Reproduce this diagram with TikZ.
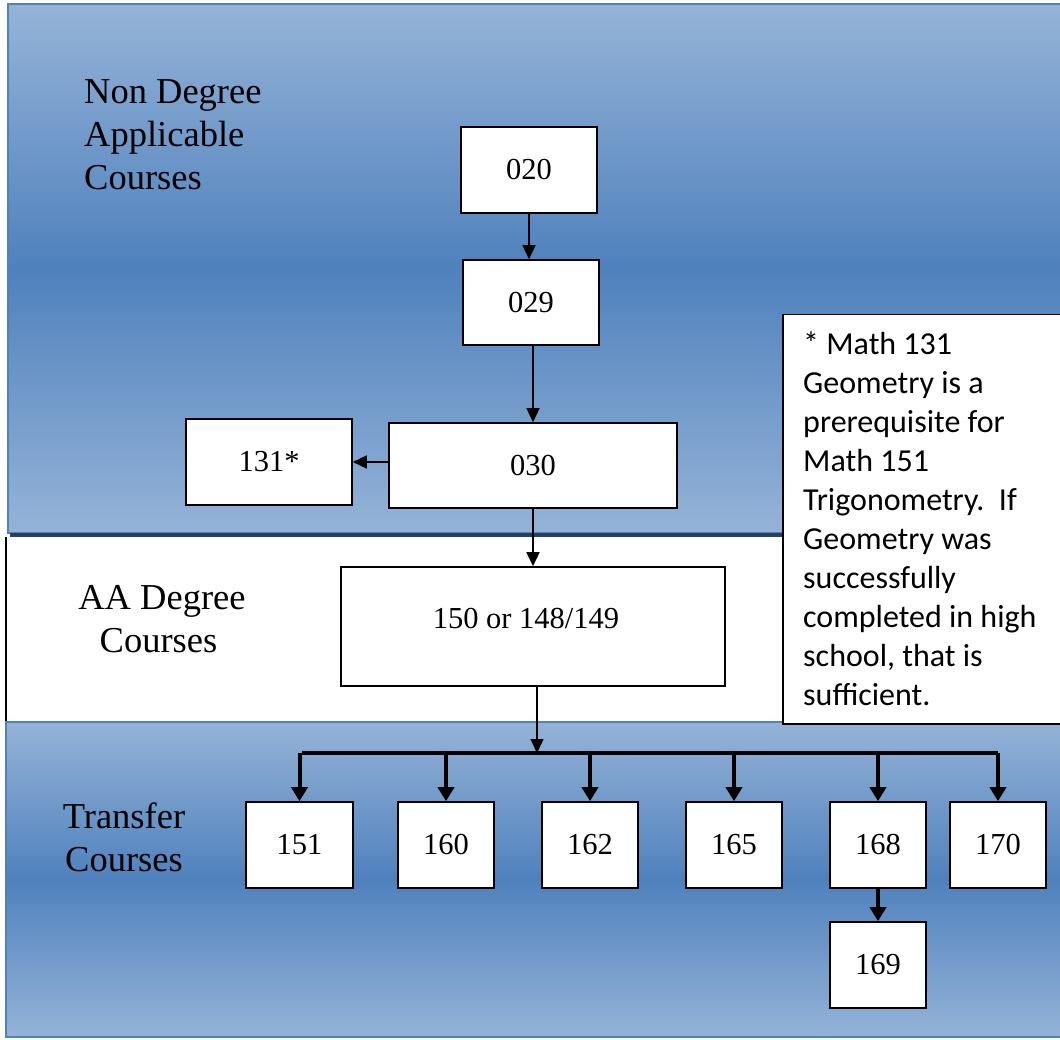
\documentclass[tikz,border=0pt]{standalone}
\usepackage{fontspec}
\setmainfont{Liberation Serif}
\newfontfamily\notefont{Carlito}
\usetikzlibrary{arrows.meta}
\definecolor{bandlight}{RGB}{149,179,215}
\definecolor{banddark}{RGB}{79,129,189}
\definecolor{bandedge}{RGB}{79,129,189}
\definecolor{bandshadow}{RGB}{38,64,96}
\tikzset{
  box/.style={draw=black, line width=1.6pt, fill=white, inner sep=0pt},
  numtext/.style={font=\fontsize{30.5}{34}\selectfont},
  bandlabel/.style={font=\fontsize{36.5}{43}\selectfont, inner sep=0pt},
  thinarrow/.style={line width=1.5pt, -{Triangle[length=14pt,width=13pt]}},
  thickarrow/.style={line width=4pt, -{Triangle[length=14pt,width=16pt]}},
  band/.style={draw=bandedge, line width=2pt, top color=bandlight, bottom color=bandlight, middle color=banddark}
}
\begin{document}
\begin{tikzpicture}[x=1pt,y=-1pt]
\useasboundingbox (0,0) rectangle (1060,1040);
% bands
\fill[white] (0,0) rectangle (1060,1040);
\shade[band] (8,4) rectangle (1068,533);
\draw[bandshadow, line width=4pt] (10,535) -- (1062,535);
\draw[black, line width=2pt] (6,537) -- (6,722);
\shade[band] (6,722) rectangle (1068,1037);

% band labels (base anchor = baseline of last line)
\begin{scope}
\clip (0,0) rectangle (400,191);
\node[bandlabel, anchor=base west, align=left] (nondeg) at (84,190) {Non Degree\\Applicable\\Courses};
\end{scope}
\node[bandlabel, anchor=base, align=center] (aadeg) at (162,652) {AA Degree\\\hspace*{-7pt}Courses};
\node[bandlabel, anchor=base, align=center] (transfer) at (124,871) {Transfer\\Courses};

% boxes
\node[box, minimum width=136pt, minimum height=86pt, numtext] (n020) at (529,170) {020};
\node[box, minimum width=136pt, minimum height=85pt, numtext] (n029) at (531,302.5) {029};
\node[box, minimum width=288pt, minimum height=85pt, numtext] (n030) at (533,465.5) {030};
\node[box, minimum width=166pt, minimum height=86pt, numtext] (n131) at (269,462) {131*};
\node[box, minimum width=384pt, minimum height=119pt] (n150) at (533,626.5) {};
\node[numtext, anchor=base] (t150) at (526,628) {150 or 148/149};

\node[box, minimum width=107pt, minimum height=86pt, numtext] (n151) at (299.5,845) {151};
\node[box, minimum width=96pt, minimum height=86pt, numtext] (n160) at (446,845) {160};
\node[box, minimum width=96pt, minimum height=86pt, numtext] (n162) at (590,845) {162};
\node[box, minimum width=96pt, minimum height=86pt, numtext] (n165) at (734,845) {165};
\node[box, minimum width=96pt, minimum height=86pt, numtext] (n168) at (878,845) {168};
\node[box, minimum width=96pt, minimum height=86pt, numtext] (n170) at (998,845) {170};
\node[box, minimum width=96pt, minimum height=86pt, numtext] (n169) at (878,965) {169};

% note
\node[box, line width=1.5pt, anchor=north west, minimum width=282pt, minimum height=409pt] (note) at (782,314) {};
\node[anchor=north west, align=left, inner sep=0pt, font=\notefont\fontsize{32}{39}\selectfont] (notetext) at (803,332)
{* Math 131\\Geometry is a\\prerequisite for\\Math 151\\Trigonometry.\ \ If\\Geometry was\\successfully\\completed in high\\school, that is\\sufficient.};

% connectors
\draw[thinarrow] (n020.south) -- (n020.south |- n029.north);
\draw[thinarrow] (n030.north |- n029.south) -- (n030.north);
\draw[thinarrow] (n030.west |- n131.east) -- (n131.east);
\draw[thinarrow] (n030.south) -- (n150.north);
\coordinate (busL) at (302,753);
\coordinate (busR) at (998,753);
\coordinate (busM) at (537,753);
\draw[thinarrow] (n150.south -| busM) -- (busM);
\draw[line width=4pt] (busL) -- (busR);
\draw[thickarrow] (n151.north |- busL) -- (n151.north);
\draw[thickarrow] (n160.north |- busL) -- (n160.north);
\draw[thickarrow] (n162.north |- busL) -- (n162.north);
\draw[thickarrow] (n165.north |- busL) -- (n165.north);
\draw[thickarrow] (n168.north |- busL) -- (n168.north);
\draw[thickarrow] (n170.north |- busL) -- (n170.north);
\draw[thickarrow] (n168.south) -- (n169.north);
\end{tikzpicture}
\end{document}
